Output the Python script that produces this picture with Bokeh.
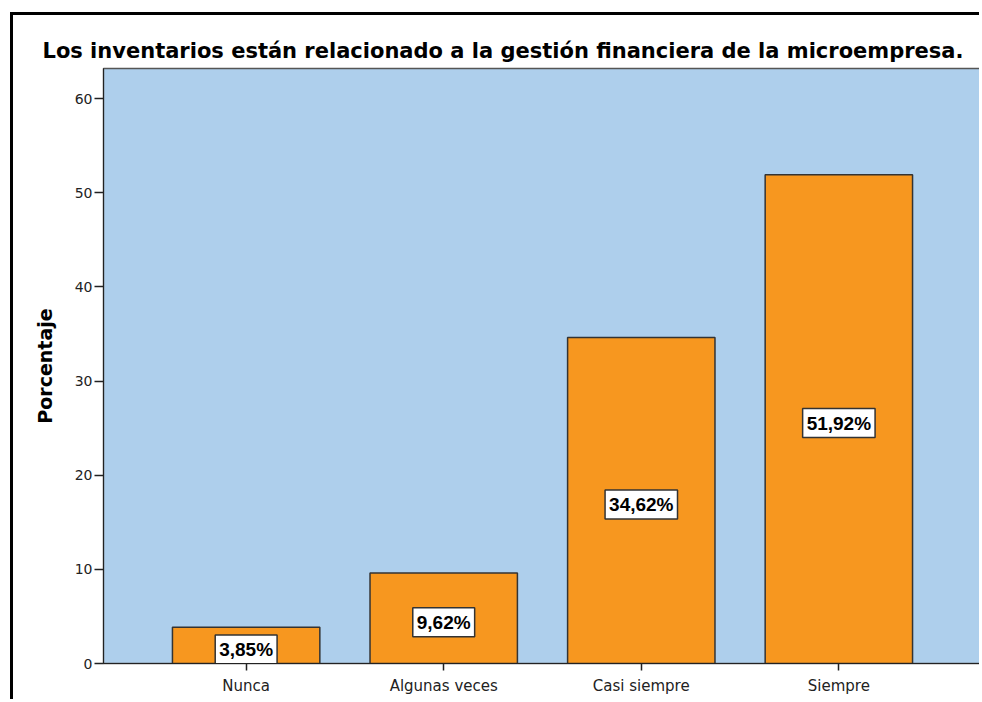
from bokeh.plotting import figure
from bokeh.models import ColumnDataSource, FactorRange, Range1d, Title
from bokeh.core.properties import value
from bokeh.embed import file_html
from bokeh.resources import INLINE

categories = ["Nunca", "Algunas veces", "Casi siempre", "Siempre"]
percentages = [3.85, 9.62, 34.62, 51.92]
labels = ["3,85%", "9,62%", "34,62%", "51,92%"]
y_ticks = [0, 10, 20, 30, 40, 50, 60]

src = ColumnDataSource(data=dict(
    cat=categories,
    pct=percentages,
    mid=[v / 2 for v in percentages],
    lab=labels,
))

FONT = "Liberation Sans"
WIDE = "DejaVu Sans"

p = figure(
    x_range=FactorRange(factors=categories, range_padding=0.222, range_padding_units="absolute"),
    y_range=Range1d(0, 63.2),
    width=969, height=687,
    output_backend="svg", toolbar_location=None,
    min_border_left=90, min_border_right=1, min_border_top=53, min_border_bottom=39,
    background_fill_color="#AECFEC", border_fill_color="white",
)
p.styles = {"border-left": "3px solid black", "border-top": "3px solid black",
            "margin-left": "10px", "margin-top": "12px"}

p.vbar(x="cat", top="pct", width=0.746, source=src,
       fill_color="#F7971F", line_color="#333333", line_width=1.5)

p.text(x="cat", y="mid", text="lab", source=src,
       text_font=value(FONT), text_font_style="bold", text_font_size="19px",
       text_align="center", text_baseline="middle", y_offset=4,
       background_fill_color="white", border_line_color="#333333", border_line_width=1.5,
       padding=4)

t = Title(text="Los inventarios están relacionado a la gestión financiera de la microempresa.",
          text_font=WIDE, text_font_size="21px", text_font_style="bold",
          align="left", offset=-61, standoff=12, text_color="black")
p.add_layout(t, "above")

p.grid.visible = False
p.outline_line_color = "#555555"
p.outline_line_width = 1.5

p.yaxis.ticker = y_ticks
p.yaxis.axis_label = "Porcentaje"
p.yaxis.axis_label_text_font = WIDE
p.yaxis.axis_label_text_font_style = "bold"
p.yaxis.axis_label_text_font_size = "19px"
p.yaxis.axis_label_text_color = "black"
p.yaxis.axis_label_standoff = 16
p.yaxis.major_label_text_font = WIDE
p.yaxis.major_label_text_font_size = "14px"
p.yaxis.major_label_text_color = "#222222"
p.yaxis.major_tick_out = 9
p.yaxis.major_tick_in = 0
p.yaxis.minor_tick_out = 0
p.yaxis.minor_tick_in = 0
p.yaxis.major_label_standoff = 2
p.yaxis.axis_line_color = "#222222"
p.yaxis.major_tick_line_color = "#222222"
p.yaxis.major_tick_line_width = 1.5

p.xaxis.major_label_text_font = WIDE
p.xaxis.major_label_text_font_size = "15px"
p.xaxis.major_label_text_color = "#222222"
p.xaxis.major_tick_out = 7
p.xaxis.major_tick_in = 0
p.xaxis.major_label_standoff = 6
p.xaxis.axis_line_color = "#222222"
p.xaxis.major_tick_line_color = "#222222"
p.xaxis.major_tick_line_width = 1.5

open("out.html", "w").write(file_html(p, INLINE))
